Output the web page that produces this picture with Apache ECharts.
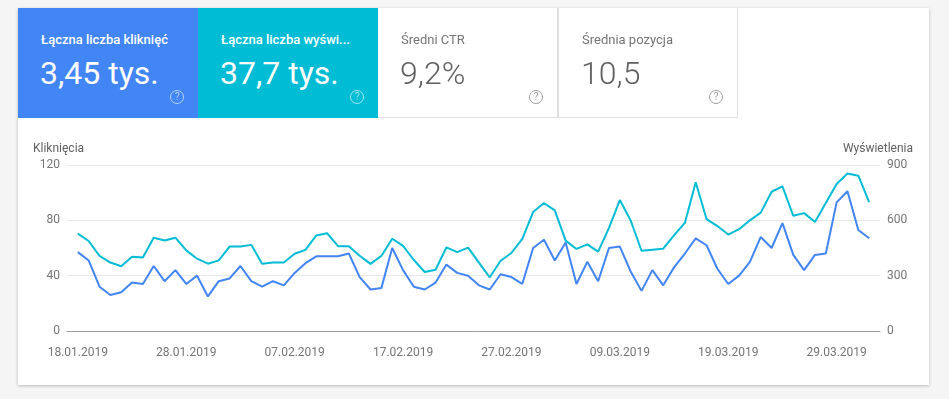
<!DOCTYPE html>
<html>
<head>
<meta charset="utf-8">
<script src="https://cdn.jsdelivr.net/npm/echarts@6/dist/echarts.min.js"></script>
<style>
  html, body { margin: 0; padding: 0; background: #f5f5f5; font-family: Roboto, "Noto Sans", sans-serif; }
  #card {
    position: absolute; left: 18px; top: 8px; width: 911px; height: 377px;
    background: #fff; box-shadow: 0 1px 3px rgba(0,0,0,0.25);
  }
  #result { position: absolute; left: 0; top: 0; width: 949px; height: 399px; }
  .tile {
    position: absolute; top: 8px; width: 180px; height: 110px; box-sizing: border-box;
    z-index: 2;
  }
  .tile .t { position: absolute; left: 23px; top: 24px; font-size: 13px; white-space: nowrap; }
  .tile .v { position: absolute; left: 22px; top: 46px; font-size: 32px; white-space: nowrap; }
  .tile .q {
    position: absolute; right: 14px; top: 82px; width: 12px; height: 12px;
    border: 1.5px solid; border-radius: 50%; font-size: 10px; line-height: 12px; text-align: center;
  }
  .on .t { color: #fff; font-weight: 500; }
  .on .v { color: #fff; }
  .on .q { border-color: rgba(255,255,255,0.6); color: rgba(255,255,255,0.6); }
  .off { border-right: 1px solid #e0e0e0; border-bottom: 1px solid #e0e0e0; }
  .off .t { color: #757575; }
  .off .v { color: #616161; font-weight: 300; }
  .off .q { border-color: #9e9e9e; color: #9e9e9e; border-width: 1px; }
</style>
</head>
<body>
<div id="card"></div>
<div id="result"></div>
<div class="tile on" style="left:18px;background:#4285f4;"><div class="t">Łączna liczba kliknięć</div><div class="v">3,45 tys.</div><div class="q">?</div></div>
<div class="tile on" style="left:198px;background:#00bcd4;"><div class="t">Łączna liczba wyświ...</div><div class="v">37,7 tys.</div><div class="q">?</div></div>
<div class="tile off" style="left:378px;"><div class="t">Średni CTR</div><div class="v">9,2%</div><div class="q">?</div></div>
<div class="tile off" style="left:558px;border-left:1px solid #e0e0e0;"><div class="t">Średnia pozycja</div><div class="v">10,5</div><div class="q">?</div></div>
<script>
var startDate = new Date(2019, 0, 18);
var dates = [];
for (var i = 0; i < 74; i++) {
    var d = new Date(startDate.getTime());
    d.setDate(startDate.getDate() + i);
    dates.push(('0' + d.getDate()).slice(-2) + '.' + ('0' + (d.getMonth() + 1)).slice(-2) + '.' + d.getFullYear());
}
var tickIndexes = [0, 10, 20, 30, 40, 50, 60, 70];

var clicks = [57, 51, 32, 26, 28, 35, 34, 47, 36, 44,
    34, 40, 25, 36, 38, 47, 36, 32, 36, 33,
    42, 49, 54, 54, 54, 56, 39, 30, 31, 60,
    44, 32, 30, 35, 48, 42, 40, 33, 30, 41,
    39, 34, 60, 66, 51, 64, 34, 50, 36, 60,
    61, 43, 29, 44, 33, 46, 56, 67, 62, 45,
    34, 40, 50, 68, 60, 78, 55, 44, 55, 56,
    93, 101, 73, 67];

var impressions = [528, 488, 407, 371, 351, 402, 398, 506, 491, 506,
    437, 392, 365, 383, 458, 458, 467, 365, 371, 371,
    419, 440, 518, 530, 460, 460, 408, 364, 407, 500,
    462, 385, 320, 332, 453, 428, 452, 371, 291, 381,
    423, 499, 645, 694, 654, 490, 445, 470, 430, 559,
    710, 599, 435, 441, 446, 519, 586, 806, 607, 569,
    523, 552, 600, 642, 755, 784, 625, 639, 591, 694,
    797, 854, 842, 699];

var myChart = echarts.init(document.getElementById("result"));

myChart.setOption({
    animation: false,
    textStyle: { fontFamily: 'Roboto' },
    grid: {
        left: 67,
        right: 69,
        top: 165,
        bottom: 68
    },
    graphic: [
        {
            type: 'text', left: 33, top: 143,
            style: { text: 'Kliknięcia', fill: '#616161', font: '12px Roboto' }
        },
        {
            type: 'text', right: 36, top: 143,
            style: { text: 'Wyświetlenia', fill: '#616161', font: '12px Roboto' }
        }
    ],
    xAxis: {
        type: 'value',
        min: -1,
        max: 74,
        splitLine: { show: false },
        axisTick: { show: false },
        axisLine: { lineStyle: { color: '#9e9e9e', width: 1 } },
        axisLabel: {
            customValues: tickIndexes,
            margin: 16,
            color: '#757575',
            fontSize: 12,
            formatter: function (v) { return dates[v]; }
        }
    },
    yAxis: [
        {
            type: 'value',
            min: 0,
            max: 120,
            interval: 40,
            axisLine: { show: false },
            axisTick: { show: false },
            axisLabel: { color: '#757575', fontSize: 12, margin: 7 },
            splitLine: { lineStyle: { color: '#e8e8e8' } }
        },
        {
            type: 'value',
            min: 0,
            max: 900,
            interval: 300,
            axisLine: { show: false },
            axisTick: { show: false },
            axisLabel: { color: '#757575', fontSize: 12, margin: 7 },
            splitLine: { show: false }
        }
    ],
    series: [
        {
            name: 'Wyświetlenia',
            type: 'line',
            yAxisIndex: 1,
            symbol: 'none',
            lineStyle: { color: '#00bcd4', width: 2 },
            data: impressions.map(function (v, i) { return [i, v]; })
        },
        {
            name: 'Kliknięcia',
            type: 'line',
            yAxisIndex: 0,
            symbol: 'none',
            lineStyle: { color: '#4285f4', width: 2 },
            data: clicks.map(function (v, i) { return [i, v]; })
        }
    ]
});
</script>
</body>
</html>
